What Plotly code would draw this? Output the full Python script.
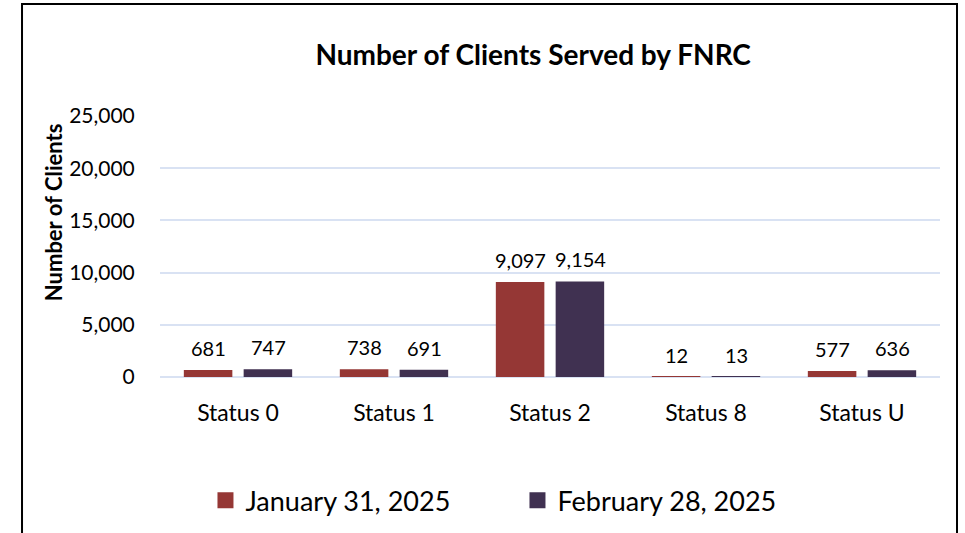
import plotly.graph_objects as go

categories = ["Status 0", "Status 1", "Status 2", "Status 8", "Status U"]
jan_values = [681, 738, 9097, 12, 577]
feb_values = [747, 691, 9154, 13, 636]
series_names = ["January 31, 2025", "February 28, 2025"]
y_ticks = [0, 5000, 10000, 15000, 20000, 25000]
y_tick_labels = ["0", "5,000", "10,000", "15,000", "20,000", "25,000"]

colors = ["#953735", "#403151"]
FONT = "Lato"

fig = go.Figure()
for name, vals, col in zip(series_names, [jan_values, feb_values], colors):
    fig.add_trace(go.Bar(
        x=categories, y=vals, name=name, showlegend=False,
        marker=dict(color=col, line=dict(width=0)),
    ))
# legend entries with larger square swatches
for name, col in zip(series_names, colors):
    fig.add_trace(go.Scatter(
        x=[categories[0]], y=[None], name=name, mode="markers",
        marker=dict(symbol="square", size=16, color=col, line=dict(width=0)),
        showlegend=True, hoverinfo="skip",
    ))

# data labels
for vals, shift in [(jan_values, -30), (feb_values, 30)]:
    for c, v in zip(categories, vals):
        fig.add_annotation(
            x=c, y=v, xref="x", yref="y", text=f"{v:,}",
            showarrow=False, xshift=shift, yshift=22, yanchor="middle",
            font=dict(family=FONT, size=20, color="#000000"),
        )

# y axis title
fig.add_annotation(
    x=-0.137, y=0.632, xref="paper", yref="paper",
    text="<b>Number of Clients</b>", textangle=-90, showarrow=False,
    font=dict(family=FONT, size=22, color="#000000"),
    xanchor="center", yanchor="middle",
)

# chart border
fig.add_shape(
    type="rect", xref="paper", yref="paper",
    x0=-0.1769, x1=1.0218, y0=-0.65, y1=1.429,
    line=dict(color="#000000", width=2), fillcolor="rgba(0,0,0,0)",
)

fig.update_layout(
    width=965, height=533,
    margin=dict(l=160, r=25, t=116, b=156, autoexpand=False),
    paper_bgcolor="white", plot_bgcolor="white",
    barmode="group", bargap=0.233, bargroupgap=0.189,
    title=dict(
        text="<b>Number of Clients Served by FNRC</b>",
        x=0.5525, xanchor="center", y=0.897, yanchor="middle",
        font=dict(family=FONT, size=28, color="#000000"),
    ),
    font=dict(family=FONT, color="#000000"),
    legend=dict(
        orientation="h", x=0.4583, xanchor="center", y=-0.38, yanchor="top",
        font=dict(family=FONT, size=27, color="#000000"),
        entrywidth=267, entrywidthmode="pixels",
        itemsizing="trace",
    ),
    showlegend=True,
)

fig.update_xaxes(
    showgrid=False, showline=False, zeroline=False,
    ticks="outside", ticklen=15, tickcolor="rgba(0,0,0,0)",
    tickfont=dict(family=FONT, size=23, color="#000000"),
)
fig.update_yaxes(
    range=[0, 25000], tickvals=y_ticks, ticktext=y_tick_labels,
    showgrid=True, gridcolor="#D9E2F3", gridwidth=1.5,
    zeroline=True, zerolinecolor="#D9E2F3", zerolinewidth=1.5,
    showline=False,
    ticks="outside", ticklen=20, tickcolor="rgba(0,0,0,0)",
    tickfont=dict(family=FONT, size=21, color="#000000"),
)

fig.write_html("out.html", config={"displayModeBar": False},
               post_script="document.body.style.margin='0';")
